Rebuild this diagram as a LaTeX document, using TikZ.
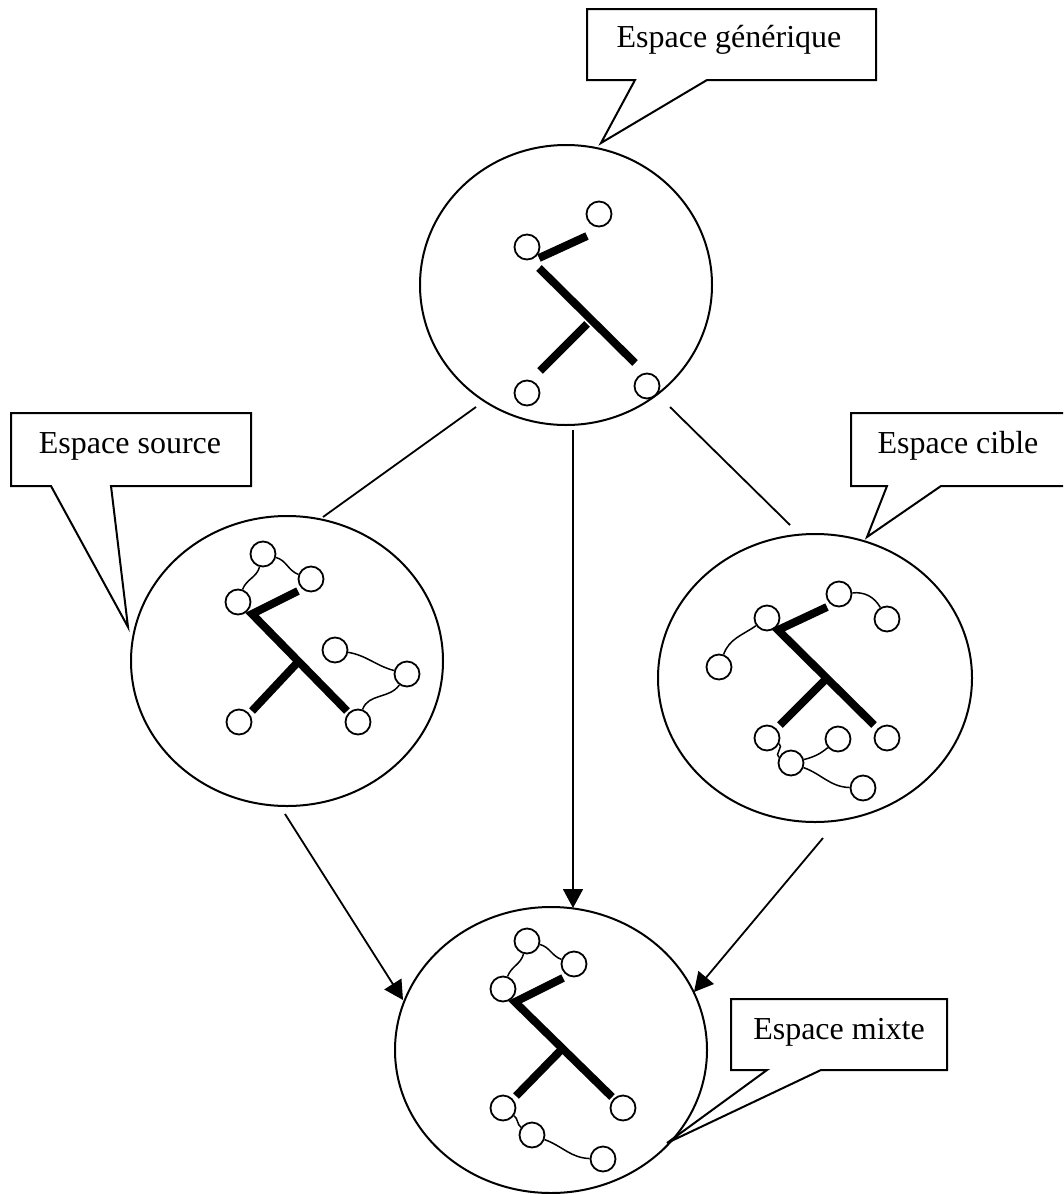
\documentclass[tikz,border=0pt]{standalone}
\usepackage{fontspec}
\setmainfont{Liberation Serif}
\usetikzlibrary{shapes.geometric,arrows.meta}
\begin{document}
\begin{tikzpicture}[x=1pt,y=-1pt,
  ell/.style={ellipse,draw,line width=2pt,inner sep=0pt},
  dot/.style={circle,draw,line width=1.8pt,minimum size=25pt,inner sep=0pt,fill=white},
  bar/.style={line width=8pt,line join=miter,line cap=butt},
  wire/.style={line width=1.5pt},
  link/.style={line width=1.8pt},
  arr/.style={link,-{Triangle[length=19pt,width=20pt]}},
  bubble/.style={draw,line width=2pt,line join=miter,fill=white},
  lbl/.style={anchor=base,inner sep=0pt,font=\fontsize{32}{36}\selectfont}
]
\useasboundingbox (0,0) rectangle (1063,1194);
\clip (0,0) rectangle (1063,1194);

% ellipses
\node[ell,minimum width=292pt,minimum height=280pt] (gen) at (566,285) {};
\node[ell,minimum width=312pt,minimum height=290pt] (src) at (287,661) {};
\node[ell,minimum width=314pt,minimum height=288pt] (tgt) at (815,678) {};
\node[ell,minimum width=312pt,minimum height=286pt] (mix) at (551,1050) {};

% connectors
\coordinate (a1) at (476,407); \coordinate (a2) at (323,517);
\coordinate (b1) at (670,407); \coordinate (b2) at (790,525);
\coordinate (c1) at (573,430); \coordinate (c2) at (573,908);
\coordinate (d1) at (285,814); \coordinate (d2) at (403,1000);
\coordinate (e1) at (823,838); \coordinate (e2) at (694,992);
\draw[link] (a1) -- (a2);
\draw[link] (b1) -- (b2);
\draw[arr] (c1) -- (c2);
\draw[arr] (d1) -- (d2);
\draw[arr] (e1) -- (e2);

% generic space
\node[dot] (g1) at (527,247) {};
\node[dot] (g2) at (599,214) {};
\node[dot] (g3) at (527,393) {};
\node[dot] (g4) at (647,386) {};
\draw[bar] (539,258) -- (587,236);
\draw[bar] (539,268) -- (635,363);
\draw[bar] (540,371) -- (587,324);

% source space
\node[dot] (s1) at (263,554) {};
\node[dot] (s2) at (311,579) {};
\node[dot] (s3) at (238,602) {};
\node[dot] (s4) at (239,722) {};
\node[dot] (s5) at (358,722) {};
\node[dot] (s6) at (335,650) {};
\node[dot] (s7) at (407,674) {};
\draw[bar] (298,591) -- (252,614) -- (347,711);
\draw[bar] (252,711) -- (297,663);
\draw[wire] (s1) to[out=-105,in=70] (s3);
\draw[wire] (s1) to[out=-15,in=160] (s2);
\draw[wire] (s6) to[out=-10,in=165] (s7);
\draw[wire] (s7) to[out=-125,in=70] (s5);

% target space
\node[dot] (t1) at (767,618) {};
\node[dot] (t2) at (839,594) {};
\node[dot] (t3) at (887,619) {};
\node[dot] (t4) at (719,667) {};
\node[dot] (t5) at (767,738) {};
\node[dot] (t6) at (838,739) {};
\node[dot] (t7) at (887,738) {};
\node[dot] (t8) at (791,763) {};
\node[dot] (t9) at (863,788) {};
\draw[bar] (827,607) -- (778,630) -- (874,725);
\draw[bar] (780,725) -- (825,680);
\draw[wire] (t1) to[out=-145,in=70] (t4);
\draw[wire] (t2) to[out=5,in=120] (t3);
\draw[wire] (t5) to[out=-25,in=155] (t8);
\draw[wire] (t8) to[out=15,in=-140] (t6);
\draw[wire] (t8) to[out=-20,in=178] (t9);

% blended space
\node[dot] (m1) at (527,941) {};
\node[dot] (m2) at (574,964) {};
\node[dot] (m3) at (503,989) {};
\node[dot] (m4) at (503,1108) {};
\node[dot] (m5) at (623,1108) {};
\node[dot] (m6) at (532,1135) {};
\node[dot] (m7) at (603,1159) {};
\draw[bar] (563,978) -- (515,1002) -- (612,1097);
\draw[bar] (516,1096) -- (561,1050);
\draw[wire] (m1) to[out=-105,in=70] (m3);
\draw[wire] (m1) to[out=-15,in=160] (m2);
\draw[wire] (m4) to[out=-35,in=145] (m6);
\draw[wire] (m6) to[out=-20,in=178] (m7);

% callouts
\draw[bubble] (587,9) -- (876,9) -- (876,80) -- (707,80) -- (601,143) -- (635,80) -- (587,80) -- cycle;
\node[lbl] (lgen) at (729,47) {Espace générique};
\draw[bubble] (11,413) -- (251,413) -- (251,486) -- (111,486) -- (128,627) -- (51,486) -- (11,486) -- cycle;
\node[lbl] (lsrc) at (130,453) {Espace source};
\draw[bubble] (851,413) -- (1075,413) -- (1075,486) -- (941,486) -- (867,537) -- (887,486) -- (851,486) -- cycle;
\node[lbl] (ltgt) at (958,453) {Espace cible};
\draw[bubble] (731,999) -- (947,999) -- (947,1070) -- (821,1070) -- (667,1143) -- (767,1070) -- (731,1070) -- cycle;
\node[lbl] (lmix) at (839,1039) {Espace mixte};
\end{tikzpicture}
\end{document}
